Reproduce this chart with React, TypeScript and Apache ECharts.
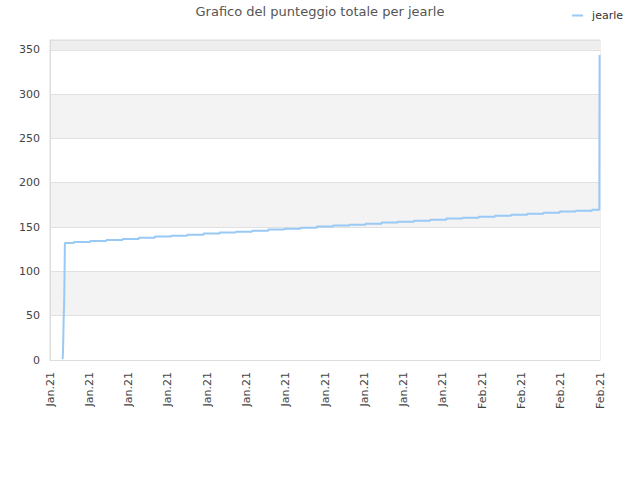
import React, { useEffect, useRef } from "react";
import * as echarts from "echarts";

const title = "Grafico del punteggio totale per jearle";
const seriesName = "jearle";

// x values in days from the start of the axis, y values = total score
const days = [
  0.76, 0.78, 0.8, 0.82, 0.84, 0.86, 0.88, 0.9, 0.92,
  1.48, 2.48, 3.48, 4.48, 5.48, 6.48, 7.48, 8.48, 9.48, 10.48,
  11.48, 12.48, 13.48, 14.48, 15.48, 16.48, 17.48, 18.48, 19.48, 20.48,
  21.48, 22.48, 23.48, 24.48, 25.48, 26.48, 27.48, 28.48, 29.48, 30.48,
  31.48, 32.48, 33.48,
  33.93, 33.935, 33.94, 33.945,
];
const scores = [
  1, 2, 7.5, 22.5, 44, 56, 70, 99, 132,
  133.2, 134.3, 135.4, 136.5, 138, 139.2, 140.3, 141.4, 142.6, 143.7,
  144.8, 145.9, 147.1, 148.2, 149.3, 150.5, 151.6, 152.7, 153.8, 155,
  156.1, 157.2, 158.3, 159.5, 160.6, 161.7, 162.8, 164, 165.1, 166.2,
  167.4, 168.5, 169.6,
  207, 251, 296, 344,
];
const xTickLabels = [
  "Jan.21", "Jan.21", "Jan.21", "Jan.21", "Jan.21", "Jan.21", "Jan.21", "Jan.21",
  "Jan.21", "Jan.21", "Jan.21", "Feb.21", "Feb.21", "Feb.21", "Feb.21",
];
const xMax = 33.97;
const yMax = 361;

export default function App() {
  const ref = useRef<HTMLDivElement>(null);
  useEffect(() => {
    if (!ref.current) return;
    const chart = echarts.init(ref.current, null, { renderer: "svg" });
    const xInterval = xMax / (xTickLabels.length - 1);
    const font = "DejaVu Sans";
    chart.setOption({
      animation: false,
      backgroundColor: "#ffffff",
      textStyle: { fontFamily: font },
      title: {
        text: title,
        left: "center",
        top: 0,
        textStyle: { fontSize: 13, fontWeight: "normal", color: "#555555", fontFamily: font },
      },
      legend: {
        right: 12,
        top: 5,
        itemWidth: 11,
        itemHeight: 2,
        itemGap: 5,
        icon: "rect",
        textStyle: { fontSize: 11, color: "#333333", fontFamily: font, padding: [0, 0, 0, 4] },
        data: [{ name: seriesName, icon: "rect" }],
      },
      grid: { left: 50, right: 40, top: 40, bottom: 120, show: true, borderColor: "#dddddd", borderWidth: 1 },
      xAxis: {
        type: "value",
        min: 0,
        max: xMax,
        interval: xInterval,
        axisLine: { show: true, lineStyle: { color: "#dddddd" } },
        axisTick: { show: false },
        splitLine: { show: false },
        axisLabel: {
          rotate: 90,
          fontSize: 11,
          color: "#444444",
          margin: 12,
          showMaxLabel: true,
          formatter: (v: number) => xTickLabels[Math.round(v / xInterval)] ?? "",
        },
      },
      yAxis: {
        type: "value",
        min: 0,
        max: yMax,
        interval: 50,
        axisLine: { show: true, lineStyle: { color: "#dddddd" } },
        axisTick: { show: false },
        axisLabel: { fontSize: 11, color: "#444444", margin: 10, showMaxLabel: false },
        splitLine: { show: true, lineStyle: { color: "#e0e0e0", width: 1 } },
        splitArea: {
          show: true,
          areaStyle: {
            color: ["#ffffff", "#f3f3f3", "#ffffff", "#f3f3f3", "#ffffff", "#f3f3f3", "#ffffff", "#eeeeee"],
          },
        },
      },
      series: [
        {
          name: seriesName,
          type: "line",
          step: "end",
          showSymbol: false,
          symbol: "none",
          lineStyle: { color: "#99c9f5", width: 2 },
          itemStyle: { color: "#99c9f5" },
          data: days.map((d, i) => [d, scores[i]]),
        },
      ],
    });
    return () => chart.dispose();
  }, []);
  return (
    <div
      ref={ref}
      style={{ width: 640, height: 480, position: "absolute", left: 0, top: 0 }}
    />
  );
}
